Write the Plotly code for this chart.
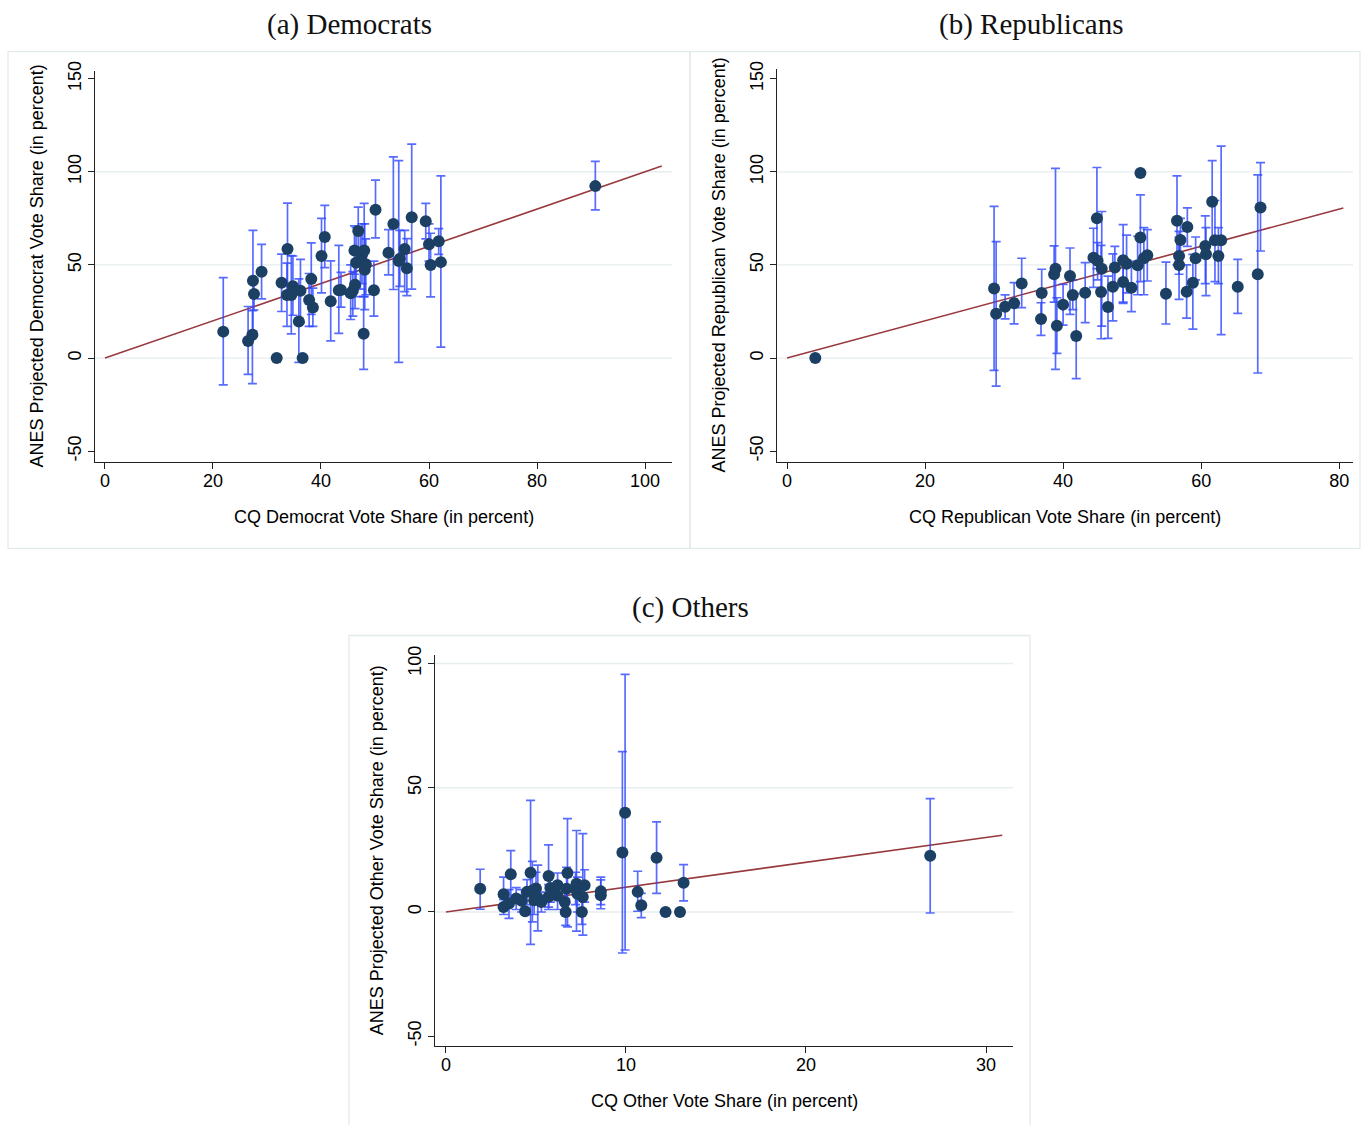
import plotly.graph_objects as go

# ---------------- data ----------------
# (a) Democrats
dem_x  = [21.9, 26.5, 27.3, 27.4, 27.6, 29.0, 31.8, 32.7, 33.8, 33.7, 34.5, 34.8, 35.9, 36.2, 36.6,
          37.8, 38.2, 38.5, 40.1, 40.7, 41.8, 43.3, 43.7, 45.5, 45.9, 46.3, 46.2, 46.5, 46.9, 47.3,
          47.6, 47.9, 48.0, 48.1, 48.3, 49.8, 50.1, 52.5, 53.4, 54.4, 54.6, 55.5, 55.9, 56.8, 59.4,
          60.0, 60.3, 61.8, 62.2, 90.8]
dem_y  = [14.2, 9.2, 12.5, 41.5, 34.4, 46.4, 0.0, 40.4, 58.6, 33.8, 33.9, 38.6, 19.6, 36.2, 0.0,
          31.2, 42.4, 27.2, 54.8, 65.0, 30.5, 36.4, 36.5, 34.8, 36.2, 39.4, 57.8, 51.2, 68.2, 52.6,
          55.5, 13.0, 57.8, 47.4, 50.4, 36.4, 79.6, 56.5, 72.0, 52.1, 53.3, 58.5, 48.2, 75.6, 73.5,
          61.1, 49.9, 62.7, 51.5, 92.3]
dem_lo = [-14.4, -8.7, -13.7, 14.5, 25.8, 31.8, 0.0, 25.0, 34.0, 17.0, 13.0, 23.0, -2.3, 19.0, 0.0,
          17.0, 23.4, 17.0, 35.0, 48.5, 9.2, 13.3, 27.4, 20.7, 22.5, 26.5, 45.0, 33.0, 52.0, 37.0,
          40.0, -6.1, 33.0, 26.0, 34.0, 22.5, 64.5, 44.7, 36.8, -2.3, 38.5, 35.7, 33.5, 37.0, 64.0,
          52.0, 32.8, 55.7, 5.9, 79.5]
dem_hi = [43.2, 27.7, 25.5, 68.5, 42.8, 61.0, 0.0, 55.8, 83.2, 51.0, 55.0, 54.8, 42.5, 53.0, 0.0,
          45.4, 61.8, 37.5, 75.0, 82.0, 52.2, 60.5, 46.0, 50.0, 46.4, 52.5, 71.0, 70.0, 81.0, 68.0,
          72.0, 33.0, 83.0, 72.0, 64.0, 52.0, 95.5, 69.0, 108.0, 106.0, 68.5, 68.5, 64.1, 114.8, 83.0,
          72.0, 67.0, 69.5, 97.8, 105.6]
dem_fit = [0, 103.1]

# (b) Republicans
rep_x  = [4.1, 30.0, 30.3, 31.6, 32.9, 34.0, 36.8, 36.9, 38.9, 38.7, 39.1, 40.0, 41.0, 41.4, 41.9,
          43.2, 44.4, 44.9, 45.0, 45.6, 45.5, 46.5, 47.2, 47.5, 48.7, 48.7, 49.2, 49.9, 50.8, 51.2,
          51.2, 51.7, 52.2, 54.9, 56.5, 56.8, 57.0, 56.8, 57.9, 58.0, 58.8, 59.2, 60.6, 60.7, 61.6,
          62.0, 62.5, 62.9, 65.3, 68.2, 68.6]
rep_y  = [0.0, 37.4, 23.8, 27.6, 29.4, 40.1, 21.0, 34.9, 48.0, 45.0, 17.4, 28.7, 44.1, 33.9, 11.8,
          35.1, 53.9, 75.1, 52.2, 48.0, 35.5, 27.4, 38.3, 48.6, 52.5, 40.9, 50.7, 37.8, 49.8, 64.7,
          99.3, 53.6, 55.2, 34.6, 73.7, 54.8, 63.4, 50.0, 35.6, 70.4, 40.5, 53.6, 60.2, 55.7, 83.9,
          63.3, 54.8, 63.3, 38.3, 45.0, 80.8]
rep_lo = [0.0, -6.6, -15.0, 21.1, 18.4, 27.1, 12.2, 22.0, -6.1, 30.0, 2.5, 17.7, 23.5, 26.0, -11.0,
          19.0, 38.0, 48.0, 42.0, 17.2, 10.4, 10.6, 20.0, 38.0, 29.4, 30.0, 35.0, 25.0, 34.0, 41.0,
          99.3, 34.0, 41.4, 18.3, 50.0, 45.0, 50.0, 31.5, 21.5, 60.0, 15.6, 42.0, 40.0, 33.5, 61.0,
          41.0, 40.0, 12.6, 24.0, -8.0, 57.5]
rep_hi = [0.0, 81.4, 62.5, 33.9, 40.5, 53.6, 29.7, 47.7, 101.8, 60.2, 32.4, 39.6, 59.1, 42.0, 34.6,
          51.3, 69.7, 102.3, 62.0, 78.7, 60.5, 44.0, 56.0, 60.0, 71.7, 52.0, 66.0, 52.0, 65.4, 87.6,
          99.3, 70.0, 69.0, 51.5, 97.8, 65.0, 75.0, 68.0, 50.0, 80.6, 55.7, 65.0, 76.3, 70.0, 106.0,
          84.6, 70.0, 113.8, 53.0, 98.4, 104.9]
rep_fit = [0, 80.6]

# (c) Others
oth_x  = [1.9, 3.2, 3.2, 3.6, 3.5, 3.9, 4.2, 4.4, 4.5, 4.7, 4.8, 4.9, 5.0, 5.1, 5.3, 5.7, 5.8, 5.7,
          6.2, 6.2, 6.65, 6.75, 6.7, 6.6, 7.2, 7.25, 7.3, 7.55, 7.6, 7.7, 8.6, 8.6, 9.8, 9.95,
          10.65, 10.85, 11.7, 12.2, 13.0, 13.2, 26.9]
oth_y  = [9.4, 7.1, 2.0, 15.2, 3.4, 5.4, 4.5, 0.3, 8.1, 15.8, 8.7, 4.7, 9.5, 5.6, 4.0, 14.5, 9.7, 6.1,
          10.8, 6.5, 0.0, 15.7, 9.4, 4.0, 9.5, 11.4, 7.3, 0.0, 6.0, 10.8, 6.7, 8.3, 23.9, 39.9,
          8.1, 2.7, 21.8, 0.0, 0.0, 11.8, 22.6]
oth_lo = [1.1, 1.3, -1.0, 5.5, -2.6, 1.0, 0.0, 0.3, 3.0, -13.0, -4.0, -1.0, 3.0, -7.6, 0.0, 2.0, 4.0, 1.0,
          5.0, 1.0, -5.4, -6.0, 1.0, -1.0, 3.0, -7.7, 0.0, -5.0, -9.3, 4.0, 1.3, 3.0, -16.5, -15.3,
          0.3, -2.3, 7.5, 0.0, 0.0, 4.5, -0.4]
oth_hi = [17.2, 14.0, 5.0, 24.7, 9.0, 9.8, 9.0, 0.3, 13.0, 44.9, 20.4, 10.0, 16.0, 18.9, 8.0, 27.0, 15.0, 11.0,
          15.7, 12.0, 5.4, 37.6, 18.0, 9.0, 16.0, 32.8, 14.0, 5.0, 31.5, 17.0, 12.9, 14.0, 64.5, 95.6,
          16.4, 7.5, 36.3, 0.0, 0.0, 19.1, 45.6]
oth_fit = [0, 30.9]

titles = ["(a) Democrats", "(b) Republicans", "(c) Others"]
xtitles = ["CQ Democrat Vote Share (in percent)", "CQ Republican Vote Share (in percent)",
           "CQ Other Vote Share (in percent)"]
ytitles = ["ANES Projected Democrat Vote Share (in percent)",
           "ANES Projected Republican Vote Share (in percent)",
           "ANES Projected Other Vote Share (in percent)"]
xticks = [[0, 20, 40, 60, 80, 100], [0, 20, 40, 60, 80], [0, 10, 20, 30]]
yticks = [[-50, 0, 50, 100, 150], [-50, 0, 50, 100, 150], [-50, 0, 50, 100]]
ygrid = [[0, 50, 100], [0, 50, 100], [0, 50, 100]]

# ---------------- styling ----------------
W, H = 1361, 1125
NAVY = "#1b4064"
BAR = "rgba(45,70,255,0.8)"
FIT = "#98393e"
SANS = "Liberation Sans, Arial, sans-serif"
SERIF = "Liberation Serif, Times New Roman, serif"

# vertical calibration of the capture (observed offset / scale)
V_OFF, V_SCALE = 9.5, 0.9895

def px(v):
    return v / W

def py(v):
    return 1 - ((v - V_OFF) / V_SCALE) / H

boxes = [(95, 672, 70, 461), (777, 1353, 68, 461), (435, 1013, 653, 1044)]
ranges_x = [[-1.85, 105], [-1.45, 82.0], [-0.61, 31.5]]
ranges_y = [[-55.9, 154.3], [-55.9, 155.4], [-54, 103.6]]
frames = [(8, 690, 51, 547), (690, 1360, 51, 547), (349, 1030, 634, 1135)]
title_pos = [(349, 24), (1031, 24), (690, 606)]

series = [
    (dem_x, dem_y, dem_lo, dem_hi, dem_fit),
    (rep_x, rep_y, rep_lo, rep_hi, rep_fit),
    (oth_x, oth_y, oth_lo, oth_hi, oth_fit),
]

fig = go.Figure()
shapes = []
annotations = []

for i, (xs, ys, lo, hi, fit) in enumerate(series):
    sfx = "" if i == 0 else str(i + 1)
    xa, ya = "x" + sfx, "y" + sfx
    fig.add_trace(go.Scatter(x=fit, y=fit, mode="lines", line=dict(color=FIT, width=1.6),
                             xaxis=xa, yaxis=ya, showlegend=False, hoverinfo="skip"))
    fig.add_trace(go.Scatter(
        x=xs, y=ys, mode="markers",
        marker=dict(color=NAVY, size=12, line=dict(width=0)),
        error_y=dict(type="data", symmetric=False,
                     array=[h - y for h, y in zip(hi, ys)],
                     arrayminus=[y - l for y, l in zip(ys, lo)],
                     color=BAR, thickness=1.7, width=4.5),
        xaxis=xa, yaxis=ya, showlegend=False))

    l, r, t, b = boxes[i]
    axis_common = dict(showline=True, linecolor="#222", linewidth=1, ticks="outside", ticklen=6,
                       tickcolor="#222", tickwidth=1, showgrid=False, zeroline=False,
                       tickfont=dict(family=SANS, size=18, color="#000"))
    fig.layout["xaxis" + sfx] = dict(domain=[px(l), px(r)], range=ranges_x[i], anchor=ya,
                                     tickmode="array", tickvals=xticks[i],
                                     ticktext=[str(v) for v in xticks[i]],
                                     ticklabelstandoff=-4, **axis_common)
    fig.layout["yaxis" + sfx] = dict(domain=[py(b), py(t)], range=ranges_y[i], anchor=xa,
                                     tickmode="array", tickvals=yticks[i],
                                     ticktext=[str(v) for v in yticks[i]], tickangle=-90,
                                     **axis_common)
    for g in ygrid[i]:
        shapes.append(dict(type="line", xref=xa + " domain", yref=ya, x0=0, x1=1, y0=g, y1=g,
                           line=dict(color="#e6eef0", width=1.3), layer="below"))
    fl, fr, ft, fb = frames[i]
    shapes.append(dict(type="rect", xref="paper", yref="paper", x0=px(fl), x1=px(fr),
                       y0=py(fb), y1=py(ft), line=dict(color="#e3eaec", width=1.3), layer="below"))
    tx, ty = title_pos[i]
    annotations.append(dict(text=titles[i], x=px(tx), y=py(ty), xref="paper", yref="paper",
                            showarrow=False, xanchor="center", yanchor="middle",
                            font=dict(family=SERIF, size=29, color="#111")))
    annotations.append(dict(text=xtitles[i], x=px((l + r) / 2), y=py(b + 55), xref="paper",
                            yref="paper", showarrow=False, xanchor="center", yanchor="middle",
                            font=dict(family=SANS, size=18, color="#000")))
    annotations.append(dict(text=ytitles[i], x=px(l - 58), y=py((t + b) / 2), xref="paper",
                            yref="paper", showarrow=False, xanchor="center", yanchor="middle",
                            textangle=-90, font=dict(family=SANS, size=18, color="#000")))

fig.update_layout(width=W, height=H, margin=dict(l=0, r=0, t=0, b=0),
                  paper_bgcolor="white", plot_bgcolor="white",
                  shapes=shapes, annotations=annotations, showlegend=False)

fig.write_html(
    "out.html",
    config={"displayModeBar": False},
    post_script=(
        "document.documentElement.style.margin='0';"
        "document.documentElement.style.overflow='hidden';"
        "document.body.style.margin='0';document.body.style.overflow='hidden';"
        "var gd=document.getElementById('{plot_id}');"
        "gd.style.position='fixed';gd.style.left='0px';gd.style.top='0px';"
    ),
)
